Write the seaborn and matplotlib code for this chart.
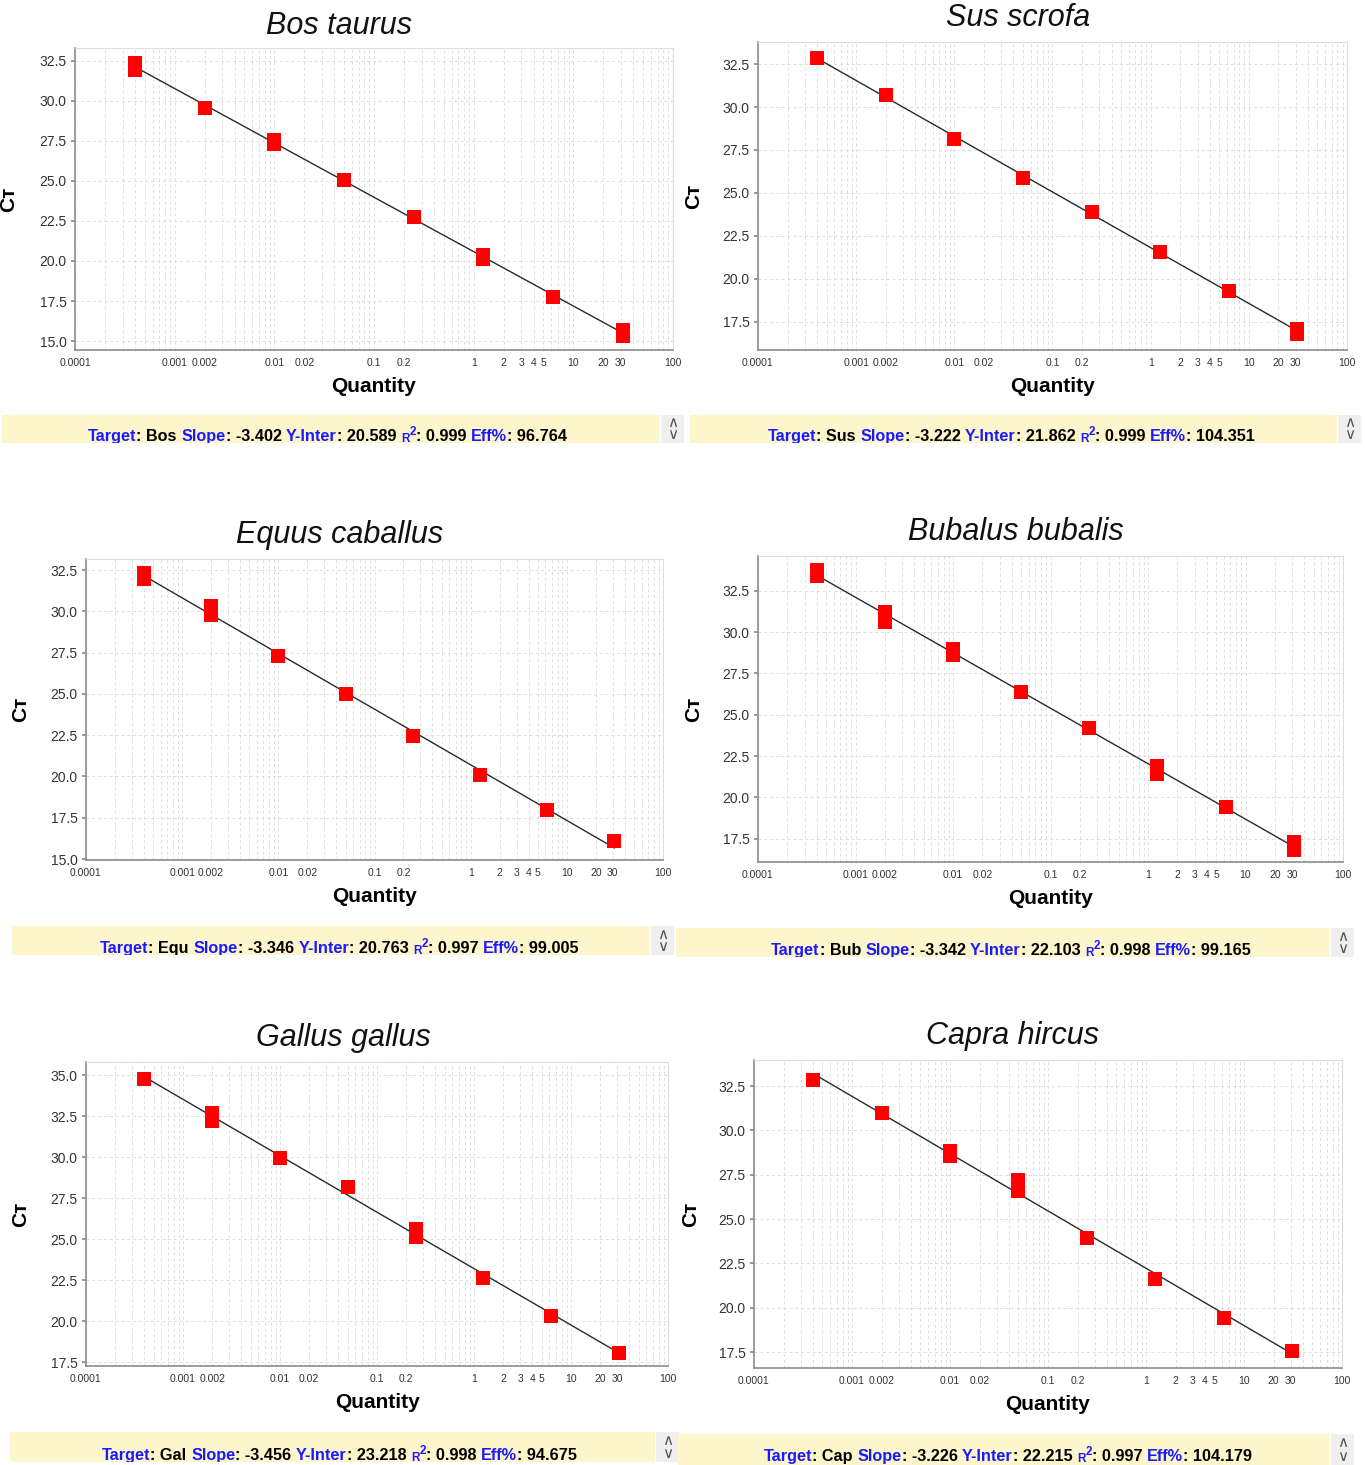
import numpy as np
import pandas as pd
import matplotlib
matplotlib.use("Agg")
import matplotlib.pyplot as plt
import matplotlib.ticker as mticker
import seaborn as sns

# Curvas estandar (diluciones 1:5), duplicados donde los cuadrados se solapan
species = ["Bos taurus", "Sus scrofa", "Equus caballus",
           "Bubalus bubalis", "Gallus gallus", "Capra hircus"]
targets = ["Bos", "Sus", "Equ", "Bub", "Gal", "Cap"]
slopes = ["-3.402", "-3.222", "-3.346", "-3.342", "-3.456", "-3.226"]
intercepts = ["20.589", "21.862", "20.763", "22.103", "23.218", "22.215"]
r2 = ["0.999", "0.999", "0.997", "0.998", "0.998", "0.997"]
eff = ["96.764", "104.351", "99.005", "99.165", "94.675", "104.179"]

qty_bos = [0.0004, 0.0004, 0.002, 0.01, 0.01, 0.05, 0.25, 1.25, 1.25, 6.25, 31.25, 31.25]
ct_bos = [32.35, 31.9, 29.56, 27.55, 27.3, 25.05, 22.75, 20.4, 20.15, 17.75, 15.7, 15.3]

qty_sus = [0.0004, 0.002, 0.01, 0.05, 0.25, 1.25, 6.25, 31.25, 31.25]
ct_sus = [32.85, 30.7, 28.15, 25.85, 23.9, 21.55, 19.3, 17.1, 16.8]

qty_equ = [0.0004, 0.0004, 0.002, 0.002, 0.01, 0.05, 0.25, 1.25, 6.25, 31.25]
ct_equ = [32.3, 31.95, 30.3, 29.8, 27.3, 25.0, 22.45, 20.1, 17.95, 16.1]

qty_bub = [0.0004, 0.0004, 0.002, 0.002, 0.01, 0.01, 0.05, 0.25, 1.25, 1.25, 6.25, 31.25, 31.25]
ct_bub = [33.75, 33.4, 31.2, 30.6, 28.95, 28.6, 26.4, 24.2, 21.9, 21.4, 19.4, 17.3, 16.8]

qty_gal = [0.0004, 0.002, 0.002, 0.01, 0.05, 0.25, 0.25, 1.25, 6.25, 31.25]
ct_gal = [34.75, 32.7, 32.2, 29.95, 28.2, 25.6, 25.15, 22.65, 20.3, 18.05]

qty_cap = [0.0004, 0.002, 0.01, 0.01, 0.05, 0.05, 0.25, 1.25, 6.25, 31.25]
ct_cap = [32.85, 30.98, 28.85, 28.55, 27.2, 26.6, 23.95, 21.6, 19.4, 17.55]

quantities = [qty_bos, qty_sus, qty_equ, qty_bub, qty_gal, qty_cap]
cts = [ct_bos, ct_sus, ct_equ, ct_bub, ct_gal, ct_cap]

xtick_vals = [0.0001, 0.001, 0.002, 0.01, 0.02, 0.1, 0.2, 1, 2, 3, 4, 5, 10, 20, 30, 100]
xtick_labels = ["0.0001", "0.001", "0.002", "0.01", "0.02", "0.1", "0.2",
                "1", "2", "3", "4", "5", "10", "20", "30", "100"]

# --- layout (pixeles de la imagen original) ---
W, H = 1365, 1465
ax_px = [(75, 48, 673, 350), (758, 42, 1347, 350), (86, 559, 663, 860),
         (758, 556, 1343, 862), (86, 1062, 668, 1366), (754, 1060, 1342, 1368)]
ylims = [(14.44, 33.3), (15.87, 33.78), (14.94, 33.17),
         (16.1, 34.6), (17.26, 35.8), (16.6, 33.97)]
title_px = [(339, 26), (1018, 18), (340, 535), (1016, 532), (343, 1038), (1013, 1036)]
ylabel_x = [18, 703, 30, 703, 30, 700]
bar_px = [(2, 415, 660, 443), (690, 415, 1337, 443), (12, 926, 650, 955),
          (676, 928, 1330, 957), (10, 1432, 655, 1462), (678, 1434, 1330, 1465)]
text_x = [88, 768, 100, 771, 102, 764]
text_base = [441, 441, 953, 955, 1460, 1461]

sns.set_theme(style="white")
plt.rcParams["font.family"] = ["Liberation Sans", "DejaVu Sans"]

fig = plt.figure(figsize=(W / 100, H / 100), dpi=100)
renderer = fig.canvas.get_renderer()


def frac_rect(l, t, r, b):
    return [l / W, 1 - b / H, (r - l) / W, (b - t) / H]


BLUE = "#1a1aff"
for i in range(6):
    l, t, r, b = ax_px[i]
    ax = fig.add_axes(frac_rect(l, t, r, b))
    df = pd.DataFrame({"Quantity": quantities[i], "Ct": cts[i]})
    ax.set_xscale("log")
    sns.regplot(data=df, x="Quantity", y="Ct", logx=True, ci=None, ax=ax,
                marker="s",
                scatter_kws={"color": "#ff0000", "s": 100, "linewidths": 0, "alpha": 1, "zorder": 3},
                line_kws={"color": "#2a2a2a", "linewidth": 1.0, "zorder": 2})
    ax.set_xlim(0.0001, 100)
    ax.set_ylim(*ylims[i])

    ax.xaxis.set_major_locator(mticker.FixedLocator(xtick_vals))
    ax.xaxis.set_major_formatter(mticker.FixedFormatter(xtick_labels))
    ax.xaxis.set_minor_locator(mticker.LogLocator(base=10, subs=np.arange(1, 10)))
    ax.xaxis.set_minor_formatter(mticker.NullFormatter())
    ax.yaxis.set_major_locator(mticker.MultipleLocator(2.5))
    ax.yaxis.set_major_formatter(mticker.FormatStrFormatter("%.1f"))

    ax.grid(which="both", axis="x", color="#dddddd", linestyle=(0, (3, 3)), linewidth=0.7)
    ax.grid(which="major", axis="y", color="#dddddd", linestyle=(0, (3, 3)), linewidth=0.7)
    ax.set_axisbelow(True)

    for side in ["top", "right"]:
        ax.spines[side].set_color("#dcdcdc")
        ax.spines[side].set_linewidth(0.8)
    for side in ["left", "bottom"]:
        ax.spines[side].set_color("#8c8c8c")
        ax.spines[side].set_linewidth(1.2)

    ax.tick_params(axis="x", which="major", length=3, color="#8c8c8c", labelsize=7.5,
                   pad=3, labelcolor="#333333")
    ax.tick_params(axis="x", which="minor", length=0)
    ax.tick_params(axis="y", length=3, color="#8c8c8c", labelsize=10, pad=3,
                   labelcolor="#333333", left=True)
    for lab in ax.get_xticklabels():
        lab.set_family(["Liberation Sans Narrow", "Liberation Sans", "DejaVu Sans"])

    ax.set_xlabel("Quantity", fontsize=15, fontweight="bold", labelpad=6, color="black")
    ax.set_ylabel("C\u1d1b", fontsize=15, fontweight="bold", color="black")
    ax.yaxis.set_label_coords((ylabel_x[i] - l) / (r - l), 0.5)

    tx, ty = title_px[i]
    fig.text(tx / W, 1 - ty / H, species[i], fontsize=22, style="italic",
             ha="center", va="center", color="#111111")

    # barra de estado amarilla
    bl, bt, br, bb = bar_px[i]
    bax = fig.add_axes(frac_rect(bl, bt, br, bb))
    bax.set_facecolor("#fdf6cd")
    bax.set_xticks([])
    bax.set_yticks([])
    for s in bax.spines.values():
        s.set_visible(False)
    sax = fig.add_axes(frac_rect(br + 1, bt, br + 24, bb))
    sax.set_facecolor("#efefef")
    sax.set_xticks([])
    sax.set_yticks([])
    for s in sax.spines.values():
        s.set_visible(False)
    sax.text(0.5, 0.70, r"$\wedge$", ha="center", va="center", fontsize=11,
             color="#555555", transform=sax.transAxes)
    sax.text(0.5, 0.27, r"$\vee$", ha="center", va="center", fontsize=11,
             color="#555555", transform=sax.transAxes)

    # texto multicolor, pieza a pieza
    pieces = [("Target", BLUE, 11.7, 0), (": " + targets[i] + " ", "black", 11.7, 0),
              ("Slope", BLUE, 11.7, 0), (": " + slopes[i] + " ", "black", 11.7, 0),
              ("Y-Inter", BLUE, 11.7, 0), (": " + intercepts[i] + " ", "black", 11.7, 0),
              ("R", BLUE, 8.5, -1), ("2", BLUE, 8.5, 6), (": " + r2[i] + " ", "black", 11.7, 0),
              ("Eff%", BLUE, 11.7, 0), (": " + eff[i], "black", 11.7, 0)]
    cursor = text_x[i]
    baseline = text_base[i]
    for txt, col, size, dy in pieces:
        t_ = fig.text(cursor / W, 1 - (baseline - dy) / H, txt, fontsize=size, color=col,
                      fontweight="bold", va="baseline", ha="left")
        t_.set_clip_box(bax.bbox)
        t_.set_clip_on(True)
        cursor += t_.get_window_extent(renderer).width

fig.savefig("out.png", dpi=100)
